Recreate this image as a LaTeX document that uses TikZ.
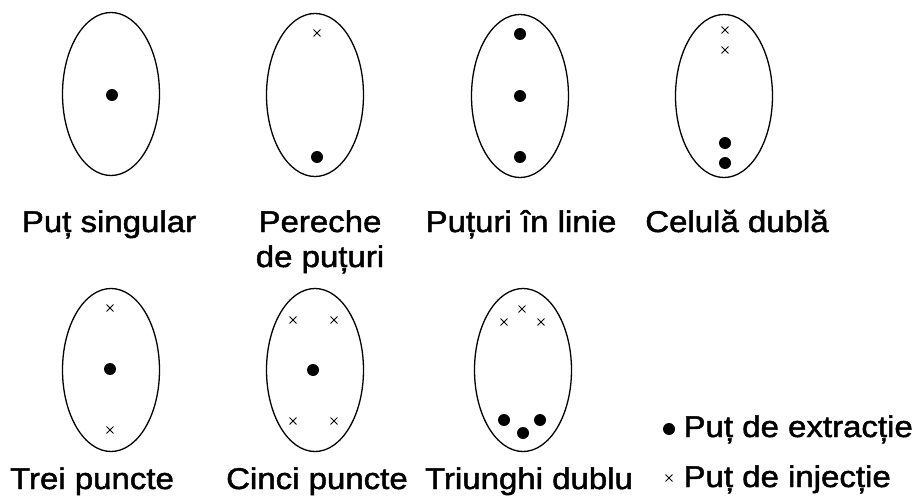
\documentclass[tikz,border=0pt]{standalone}
\usepackage{fontspec}
\setmainfont{Liberation Sans}
\newfontfamily\lblfont{Liberation Sans}[FakeStretch=1.1, FakeBold=1.6]
\usetikzlibrary{shapes.geometric}
\usetikzlibrary{shapes.misc}
\usetikzlibrary{positioning}

\begin{document}
\begin{tikzpicture}[
  x=1pt, y=-1pt,
  field/.style={ellipse, draw, line width=1.3pt, minimum width=97pt, minimum height=163pt, inner sep=0pt},
  prod/.style={circle, fill, inner sep=0pt, minimum size=12pt},
  inj/.style={cross out, draw, line width=0.9pt, inner sep=0pt, minimum size=6pt},
  lbl/.style={anchor=base, font=\lblfont\fontsize{30}{34}\selectfont},
]
\useasboundingbox (0,0) rectangle (924,500);

% top row
\node[field] (E1) at (111,94) {};
\node[field] (E2) at (315,95) {};
\node[field] (E3) at (520,96) {};
\node[field] (E4) at (724,96) {};

\node[prod] (p1) at (112,95) {};

\node[inj]  (i2) at (317,33) {};
\node[prod] (p2) at (317,157) {};

\node[prod] (p3a) at (520,34) {};
\node[prod] (p3b) at (520,96) {};
\node[prod] (p3c) at (520,157) {};

\node[inj]  (i4a) at (725,30) {};
\node[inj]  (i4b) at (725,50) {};
\node[prod] (p4a) at (725,143) {};
\node[prod] (p4b) at (725,163) {};

\node[lbl] (L1)  at (109,232) {Puț singular};
\node[lbl] (L2)  at (320,232) {Pereche};
\node[lbl] (L2b) at (320,267) {de puțuri};
\node[lbl] (L3)  at (521,232) {Puțuri în linie};
\node[lbl] (L4)  at (737,232) {Celulă dublă};

% bottom row
\node[field] (E5) at (111,370) {};
\node[field] (E6) at (315,370) {};
\node[field] (E7) at (523,370) {};

\node[inj]  (i5a) at (110,308) {};
\node[prod] (p5)  at (110,369) {};
\node[inj]  (i5b) at (110,430) {};

\node[inj]  (i6a) at (293,320) {};
\node[inj]  (i6b) at (334,320) {};
\node[prod] (p6)  at (313,370) {};
\node[inj]  (i6c) at (293,421) {};
\node[inj]  (i6d) at (334,421) {};

\node[inj]  (i7a) at (522,309) {};
\node[inj]  (i7b) at (504,322) {};
\node[inj]  (i7c) at (541,322) {};
\node[prod] (p7a) at (504,420) {};
\node[prod] (p7b) at (540,420) {};
\node[prod] (p7c) at (523,433) {};

\node[lbl] (L5) at (92,489)  {Trei puncte};
\node[lbl] (L6) at (317,489) {Cinci puncte};
\node[lbl] (L7) at (529,489) {Triunghi dublu};

% legend
\node[prod] (kp) at (669,429) {};
\node[inj] (ki) at (669,478) {};
\node[lbl, anchor=base west] (K1) at (680,437) {Puț de extracție};
\node[lbl, anchor=base west] (K2) at (680,487) {Puț de injecție};
\end{tikzpicture}
\end{document}
